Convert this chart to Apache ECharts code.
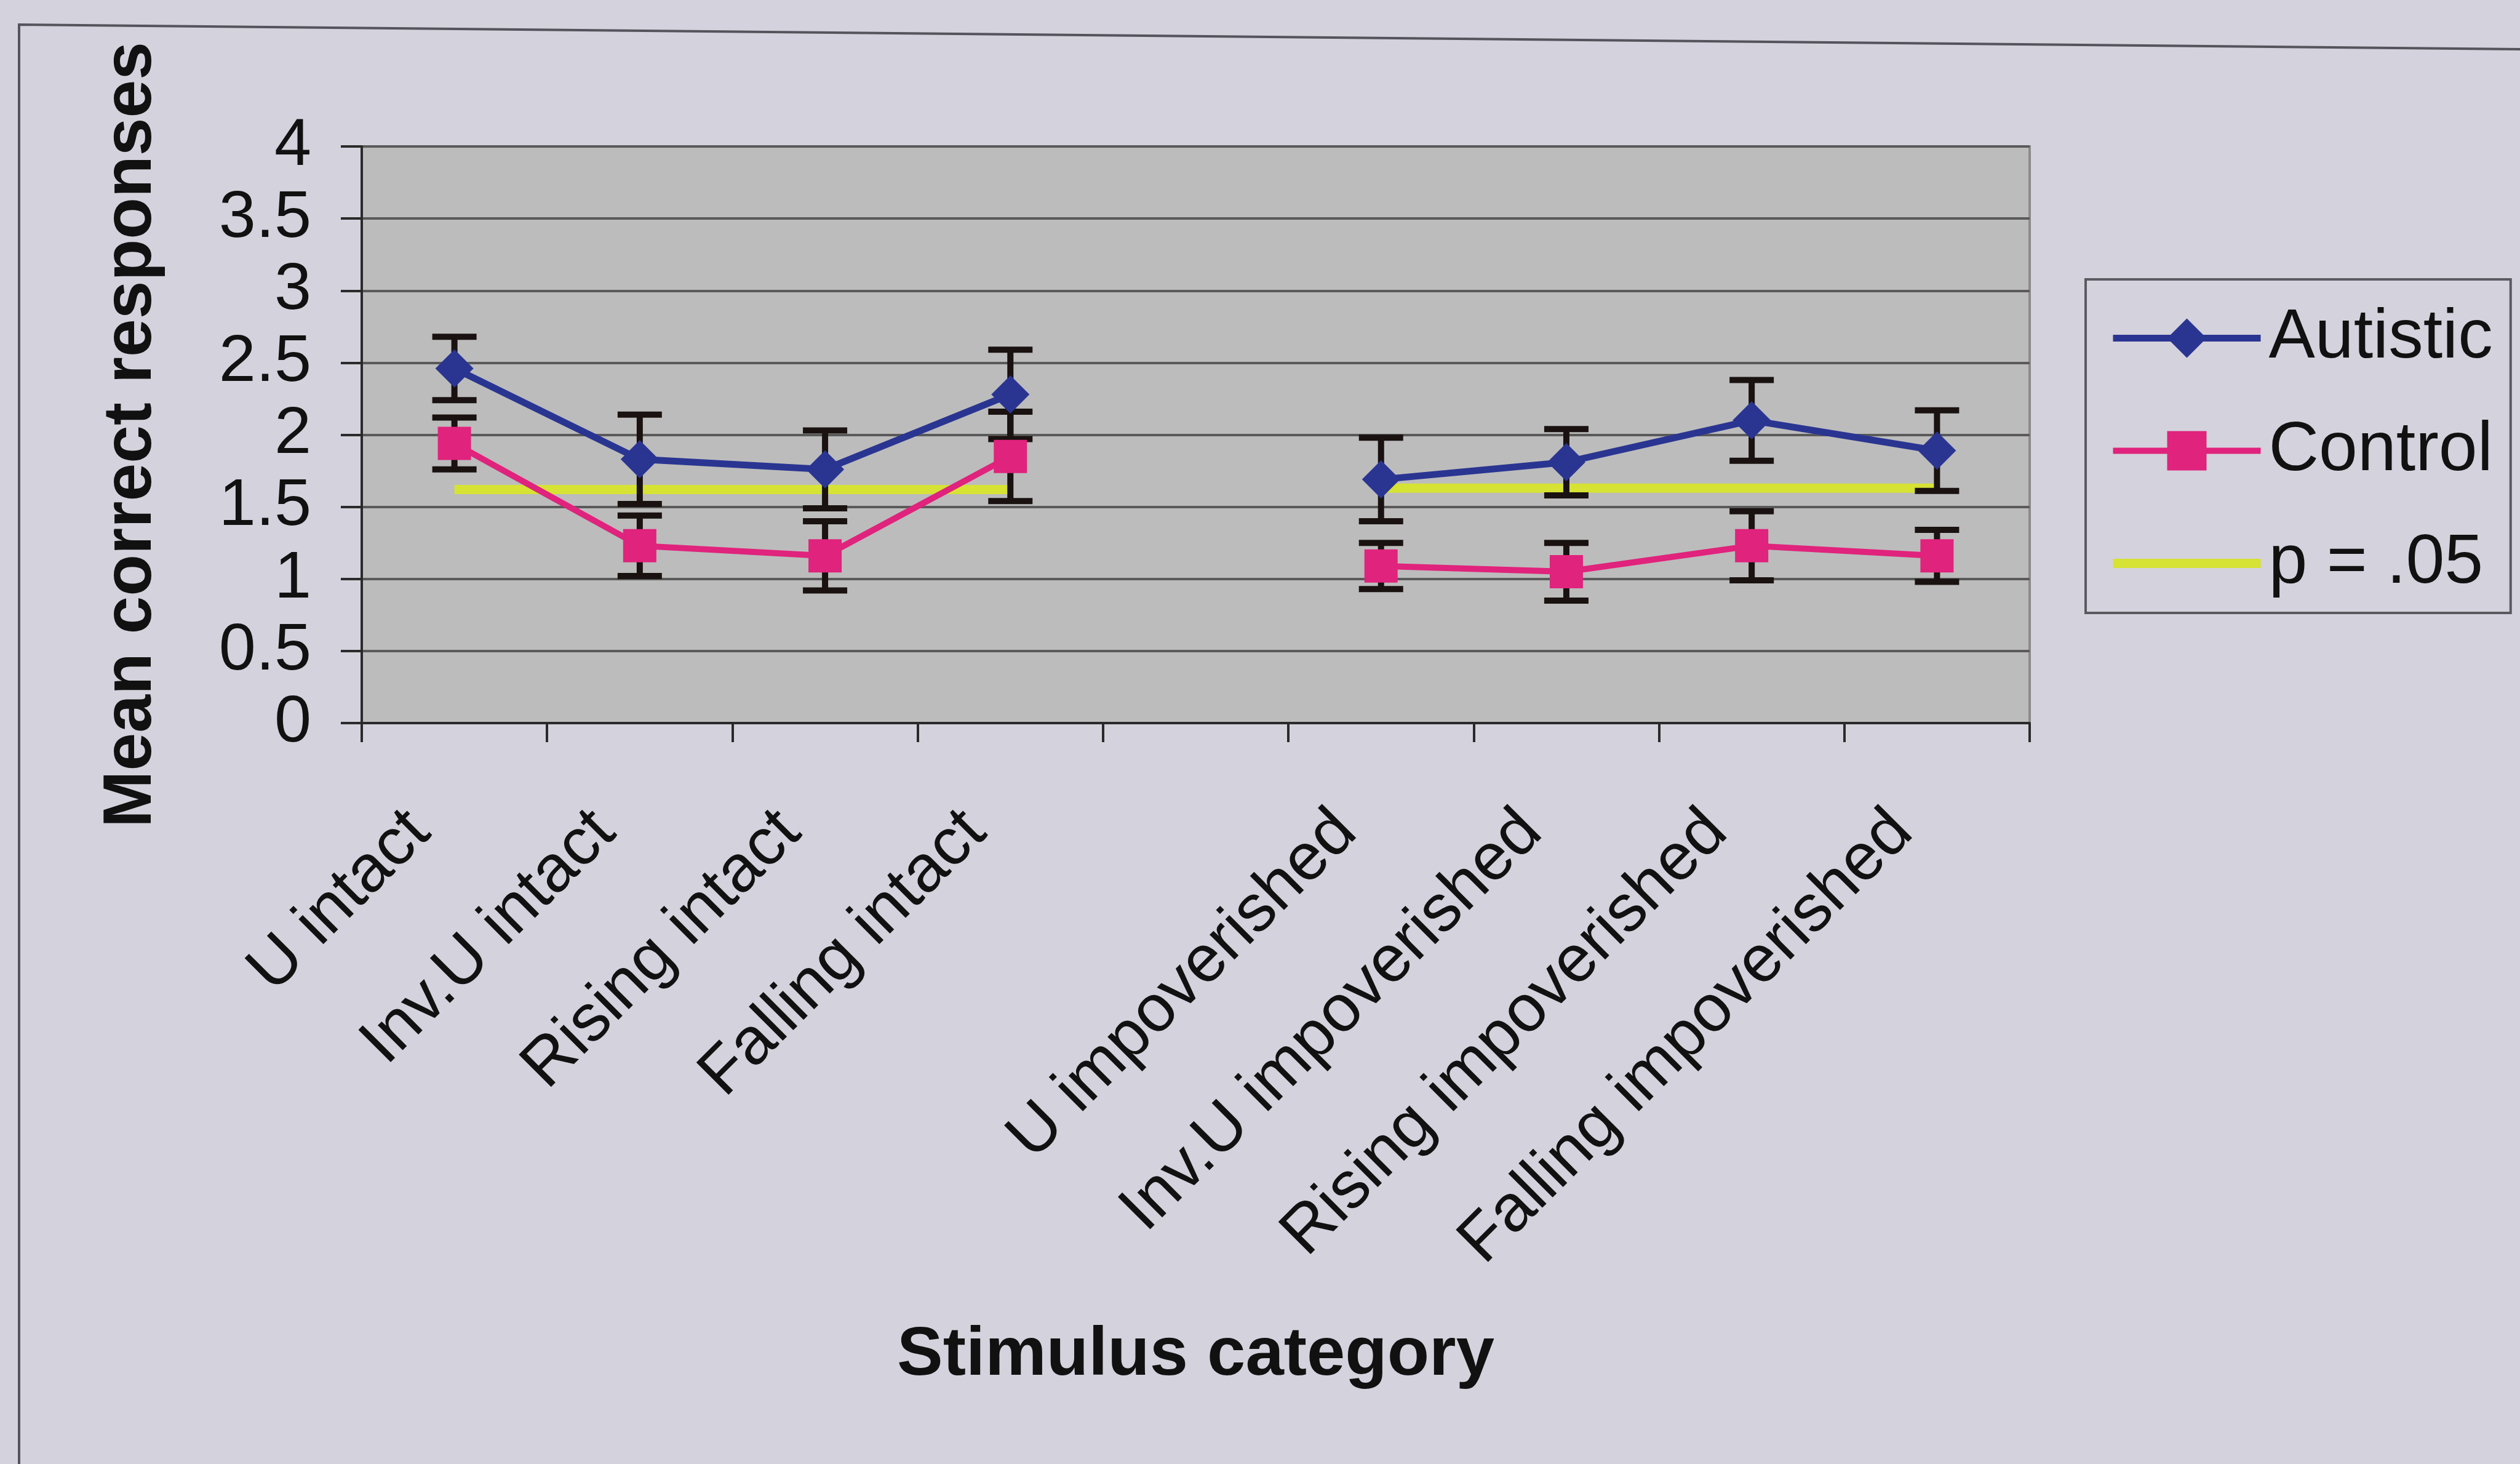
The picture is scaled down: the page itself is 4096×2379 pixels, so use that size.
<!DOCTYPE html>
<html>
<head>
<meta charset="utf-8">
<script src="https://cdn.jsdelivr.net/npm/echarts@6/dist/echarts.min.js"></script>
<style>
html,body{margin:0;padding:0;background:#d4d2dc;}
#chart{width:4096px;height:2379px;}
</style>
</head>
<body>
<div id="chart"></div>
<script>
// ---- data ----
var categories = ['U intact', 'Inv.U intact', 'Rising intact', 'Falling intact', '',
  'U impoverished', 'Inv.U impoverished', 'Rising impoverished', 'Falling impoverished'];
var autistic    = [2.46, 1.83, 1.76, 2.28, null, 1.69, 1.81, 2.10, 1.89];
var autisticErr = [0.22, 0.31, 0.27, 0.31, null, 0.29, 0.23, 0.28, 0.28];
var control     = [1.94, 1.23, 1.16, 1.85, null, 1.09, 1.05, 1.23, 1.16];
var controlErr  = [0.18, 0.21, 0.24, 0.31, null, 0.16, 0.20, 0.24, 0.18];
var pLine       = [1.62, 1.62, 1.62, 1.62, null, 1.63, 1.63, 1.63, 1.63];
var yTickLabels = ['0', '0.5', '1', '1.5', '2', '2.5', '3', '3.5', '4'];
var seriesNames = ['Autistic', 'Control', 'p = .05'];

function errData(vals, errs) {
  var out = [];
  for (var i = 0; i < vals.length; i++) {
    if (vals[i] != null) out.push([i, vals[i] - errs[i], vals[i] + errs[i]]);
  }
  return out;
}

function renderErr(params, api) {
  var x = api.value(0);
  var lo = api.coord([x, api.value(1)]);
  var hi = api.coord([x, api.value(2)]);
  var cap = 36;
  var st = { stroke: '#1a1210', lineWidth: 10 };
  return {
    type: 'group',
    children: [
      { type: 'line', shape: { x1: lo[0], y1: lo[1], x2: hi[0], y2: hi[1] }, style: st },
      { type: 'line', shape: { x1: lo[0] - cap, y1: lo[1], x2: lo[0] + cap, y2: lo[1] }, style: st },
      { type: 'line', shape: { x1: hi[0] - cap, y1: hi[1], x2: hi[0] + cap, y2: hi[1] }, style: st }
    ]
  };
}

var FONT = '"Liberation Sans", Arial, sans-serif';
var chart = echarts.init(document.getElementById('chart'));
chart.setOption({
  backgroundColor: '#d4d2dc',
  animation: false,
  textStyle: { fontFamily: FONT, color: '#111' },
  graphic: [
    { type: 'polyline', shape: { points: [[31, 2379], [31, 40], [4096, 80]] },
      style: { stroke: '#55535c', lineWidth: 4, fill: null }, z: 0 }
  ],
  grid: {
    left: 588, right: 797, top: 238, height: 937,
    show: true, backgroundColor: '#bcbcbc', borderColor: '#8e8a8c', borderWidth: 4
  },
  legend: {
    orient: 'vertical',
    left: 3390, top: 454,
    padding: [39, 29, 24, 39],
    itemWidth: 240, itemHeight: 80, itemGap: 70,
    borderColor: '#5b5960', borderWidth: 4, backgroundColor: '#d4d2dc',
    lineStyle: { width: 'inherit' },
    textStyle: { fontSize: 113, fontFamily: FONT, color: '#111', padding: [0, 0, 0, 8] },
    data: [
      { name: seriesNames[0] },
      { name: seriesNames[1] },
      { name: seriesNames[2], icon: 'path://M0,0H240V15H0Z' }
    ]
  },
  xAxis: {
    type: 'category',
    data: categories,
    boundaryGap: true,
    name: 'Stimulus category',
    nameLocation: 'middle',
    nameGap: 972,
    nameTextStyle: { fontSize: 112, fontWeight: 'bold', fontFamily: FONT, color: '#111' },
    axisLine: { lineStyle: { color: '#2a2a2a', width: 4 } },
    axisTick: { show: true, interval: 0, length: 31, lineStyle: { color: '#2a2a2a', width: 4 } },
    axisLabel: { interval: 0, rotate: 45, fontSize: 108, margin: 104, color: '#111',
      padding: [0, 80, 0, 0] },
    splitLine: { show: false }
  },
  yAxis: {
    type: 'value',
    min: 0, max: 4, interval: 0.5,
    name: 'Mean correct responses',
    nameLocation: 'middle',
    nameRotate: 90,
    nameGap: 318,
    nameTextStyle: { fontSize: 111, fontWeight: 'bold', fontFamily: FONT, color: '#111' },
    axisLine: { show: true, lineStyle: { color: '#2a2a2a', width: 4 } },
    axisTick: { show: true, length: 34, lineStyle: { color: '#2a2a2a', width: 4 } },
    axisLabel: { fontSize: 108, margin: 82, color: '#111',
      formatter: function (v) { return yTickLabels[Math.round(v * 2)]; } },
    splitLine: { show: true, lineStyle: { color: '#5a5a5a', width: 4 } }
  },
  series: [
    { name: seriesNames[2], type: 'line', data: pLine, showSymbol: false, symbol: 'none',
      connectNulls: false, lineStyle: { color: '#d6e234', width: 15 }, itemStyle: { color: '#d6e234' }, z: 2 },
    { name: 'errA', type: 'custom', renderItem: renderErr, data: errData(autistic, autisticErr), z: 3 },
    { name: 'errC', type: 'custom', renderItem: renderErr, data: errData(control, controlErr), z: 3 },
    { name: seriesNames[0], type: 'line', data: autistic, connectNulls: false,
      symbol: 'diamond', symbolSize: 62,
      lineStyle: { color: '#2a3592', width: 11 }, itemStyle: { color: '#2a3592' }, z: 4 },
    { name: seriesNames[1], type: 'line', data: control, connectNulls: false,
      symbol: 'rect', symbolSize: 54,
      lineStyle: { color: '#e0237c', width: 10 }, itemStyle: { color: '#e0237c' }, z: 4 }
  ]
});
</script>
</body>
</html>
